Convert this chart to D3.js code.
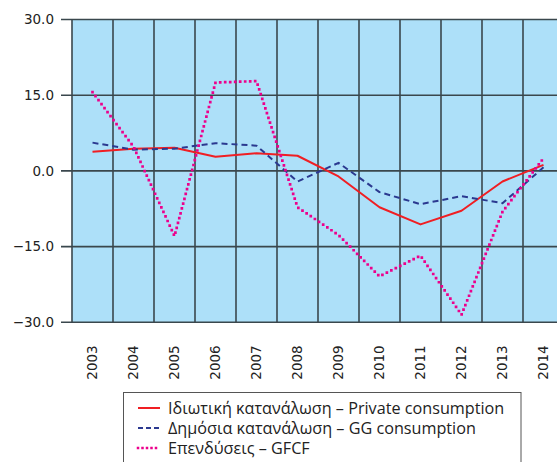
<!DOCTYPE html>
<html>
<head>
<meta charset="utf-8">
<script src="https://cdn.jsdelivr.net/npm/d3@7"></script>
<style>
html,body{margin:0;padding:0;background:#fff;overflow:hidden;}
svg{display:block;}
</style>
</head>
<body>
<svg id="chart" width="557" height="462"></svg>
<script>
const years = ["2003","2004","2005","2006","2007","2008","2009","2010","2011","2012","2013","2014"];
const privateCons = [3.8, 4.4, 4.6, 2.8, 3.5, 3.0, -1.1, -7.2, -10.6, -7.9, -2.1, 1.2];
const ggCons = [5.6, 4.2, 4.4, 5.5, 5.0, -2.1, 1.6, -4.2, -6.6, -5.0, -6.4, 0.7];
const gfcf = [15.6, 4.8, -12.9, 17.5, 17.8, -7.2, -12.7, -20.9, -16.8, -28.5, -8.1, 2.5];
const yTicks = [-30, -15, 0, 15, 30];
const seriesNames = ["Ιδιωτική κατανάλωση – Private consumption", "Δημόσια κατανάλωση – GG consumption", "Επενδύσεις – GFCF"];

(function () {
const svg = d3.select("#chart");
const pl = 72, pr = 564, pt = 19.5, pb = 322.3;

const x = d3.scaleBand().domain(years).range([pl, pr]);
const y = d3.scaleLinear().domain([-30, 30]).range([pb, pt]);

svg.append("rect").attr("x", pl).attr("y", pt).attr("width", pr - pl).attr("height", pb - pt).attr("fill", "#ade0f9");

const gridColor = "#3a474d";
svg.append("g").selectAll("line").data(yTicks).join("line")
  .attr("x1", pl - 11).attr("x2", pr)
  .attr("y1", d => y(d)).attr("y2", d => y(d))
  .attr("stroke", gridColor).attr("stroke-width", 1.6);
svg.append("g").selectAll("line").data(years).join("line")
  .attr("x1", d => x(d)).attr("x2", d => x(d))
  .attr("y1", pt).attr("y2", pb)
  .attr("stroke", gridColor).attr("stroke-width", 1.6);

const yAxis = d3.axisLeft(y).tickValues(yTicks).tickFormat(d3.format(".1f")).tickSize(0).tickPadding(18);
const ya = svg.append("g").attr("transform", `translate(${pl},0)`).call(yAxis);
ya.select(".domain").remove();
ya.selectAll("text").attr("font-family", "DejaVu Sans, Verdana, sans-serif").attr("font-size", 13.5).attr("fill", "#222");

const xAxis = d3.axisBottom(x).tickSize(0).tickPadding(0);
const xa = svg.append("g").attr("transform", `translate(0,${pb})`).call(xAxis);
xa.select(".domain").remove();
xa.selectAll("text")
  .attr("font-family", "DejaVu Sans, Verdana, sans-serif").attr("font-size", 13.5).attr("fill", "#222")
  .attr("transform", "rotate(-90)")
  .attr("text-anchor", "end")
  .attr("x", -23).attr("y", 0).attr("dy", "0.35em");

const line = d3.line().x((d, i) => x(years[i]) + x.bandwidth() / 2).y(d => y(d));

const DOT = "0,5";
const series = [
  {name: seriesNames[0], values: privateCons, color: "#f01e23", dash: null, width: 2},
  {name: seriesNames[1], values: ggCons, color: "#2b3990", dash: "6,4", width: 2},
  {name: seriesNames[2], values: gfcf, color: "#ec008c", dash: DOT, width: 2.7}
];

series.forEach(s => {
  svg.append("path").datum(s.values).attr("d", line)
    .attr("fill", "none").attr("stroke", s.color).attr("stroke-width", s.width)
    .attr("stroke-dasharray", s.dash).attr("stroke-linecap", s.dash === DOT ? "square" : "butt")
    .attr("stroke-linejoin", "round");
});

const lg = svg.append("g");
lg.append("rect").attr("x", 123.5).attr("y", 392.5).attr("width", 397.5).attr("height", 80)
  .attr("fill", "#fff").attr("stroke", "#555").attr("stroke-width", 1);
series.forEach((s, i) => {
  const yy = 408 + i * 20;
  lg.append("line").attr("x1", 138).attr("x2", 160).attr("y1", yy).attr("y2", yy)
    .attr("stroke", s.color).attr("stroke-width", s.dash === DOT ? 2.5 : 2)
    .attr("stroke-dasharray", s.dash === DOT ? "0,4.5" : (s.dash ? "5,3" : null))
    .attr("stroke-linecap", s.dash === DOT ? "square" : "butt");
  lg.append("text").attr("x", 168).attr("y", yy).attr("dy", "0.35em")
    .attr("font-family", "Open Sans, sans-serif").attr("font-size", 16.2).attr("fill", "#222")
    .text(s.name);
});
})();
</script>
</body>
</html>
